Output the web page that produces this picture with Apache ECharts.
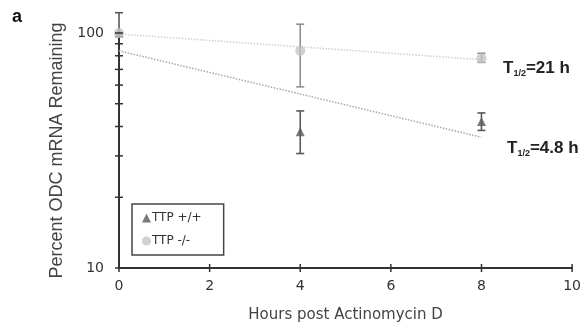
<!DOCTYPE html>
<html><head><meta charset="utf-8">
<script src="https://cdn.jsdelivr.net/npm/echarts@6/dist/echarts.min.js"></script>
<style>html,body{margin:0;padding:0;background:#fff}#c{width:584px;height:328px}</style>
</head><body><div id="c"></div>
<script>
// Data
const hours = [0, 4, 8];
const ttpWT = [100, 38, 42];          // TTP +/+
const ttpWTLow = [100, 30.7, 38.5];
const ttpWTHigh = [122, 46.6, 45.7];
const ttpKO = [100, 84, 78];          // TTP -/-
const ttpKOLow = [100, 59, 75];
const ttpKOHigh = [100, 109, 82];
const trendWT = [[0, 84], [8, 36]];
const trendKO = [[0, 99], [8, 77]];
const xTicks = [0, 2, 4, 6, 8, 10];
const yMajorTicks = [10, 100];
const yMinorTicks = [20, 30, 40, 50, 60, 70, 80, 90];

const DARK = '#595959', LIGHT = '#c4c4c4', MID = '#8f8f8f';
const FONT = 'DejaVu Sans, Verdana, sans-serif';

function errData(lo, hi) { return hours.map((h, i) => [h, lo[i], hi[i]]); }
function errRender(color) {
  return function (params, api) {
    const x = api.value(0);
    const a = api.coord([x, api.value(1)]);
    const b = api.coord([x, api.value(2)]);
    const w = 4;
    const st = { stroke: color, lineWidth: 1.6 };
    return { type: 'group', children: [
      { type: 'line', shape: { x1: a[0], y1: a[1], x2: b[0], y2: b[1] }, style: st },
      { type: 'line', shape: { x1: a[0] - w, y1: a[1], x2: a[0] + w, y2: a[1] }, style: st },
      { type: 'line', shape: { x1: b[0] - w, y1: b[1], x2: b[0] + w, y2: b[1] }, style: st }
    ]};
  };
}

const tickData = [];
xTicks.forEach(x => tickData.push([x, 10, 0]));
yMajorTicks.forEach(y => tickData.push([0, y, 1]));
yMinorTicks.forEach(y => tickData.push([0, y, 1]));

const chart = echarts.init(document.getElementById('c'));
chart.setOption({
  animation: false,
  textStyle: { fontFamily: FONT },
  grid: { left: 119, right: 11, top: 33, bottom: 57 },
  xAxis: {
    type: 'value', min: 0, max: 10, interval: 2,
    splitLine: { show: false },
    axisLine: { lineStyle: { color: '#333', width: 2 } },
    axisTick: { show: false },
    axisLabel: { color: '#333', fontSize: 14, margin: 11, fontFamily: FONT },
    name: 'Hours post Actinomycin D', nameLocation: 'middle', nameGap: 40,
    nameTextStyle: { color: '#444', fontSize: 15, fontFamily: FONT }
  },
  yAxis: {
    type: 'log', logBase: 10, min: 10, max: 100,
    splitLine: { show: false },
    axisLine: { lineStyle: { color: '#333', width: 2 } },
    axisTick: { show: false },
    minorTick: { show: false },
    axisLabel: { color: '#333', fontSize: 14, margin: 15, fontFamily: FONT },
    name: 'Percent ODC mRNA Remaining', nameLocation: 'middle', nameGap: 47,
    nameTextStyle: { color: '#444', fontSize: 18, fontFamily: 'Liberation Sans, Arial, sans-serif' }
  },
  legend: {
    orient: 'vertical', left: 132, top: 204,
    data: [{ name: 'TTP +/+', icon: 'triangle' }, { name: 'TTP -/-', icon: 'circle' }],
    itemWidth: 9, itemHeight: 9, itemGap: 11,
    padding: [8, 22, 8, 10],
    borderColor: '#444', borderWidth: 1.5,
    textStyle: { color: '#333', fontSize: 12, padding: [0, 0, 0, -4], fontFamily: FONT }
  },
  graphic: [
    { type: 'text', left: 12, top: 8, style: { text: 'a', font: 'bold 18px Liberation Sans, Arial', fill: '#111' } },
    { type: 'text', left: 503, top: 60, style: {
      text: '{t|T}{s|1/2}{t|=21 h}', rich: {
        t: { font: 'bold 17px Liberation Sans, Arial', fill: '#222' },
        s: { font: 'bold 9px Liberation Sans, Arial', fill: '#222', padding: [10, 0, 0, 0] } } } },
    { type: 'text', left: 507, top: 140, style: {
      text: '{t|T}{s|1/2}{t|=4.8 h}', rich: {
        t: { font: 'bold 17px Liberation Sans, Arial', fill: '#222' },
        s: { font: 'bold 9px Liberation Sans, Arial', fill: '#222', padding: [10, 0, 0, 0] } } } }
  ],
  series: [
    { type: 'custom', silent: true, clip: false, data: tickData, z: 5,
      renderItem: function (params, api) {
        const p = api.coord([api.value(0), api.value(1)]);
        const v = api.value(2) === 1;
        const l = 4;
        return { type: 'line',
          shape: v ? { x1: p[0] - l, y1: p[1], x2: p[0] + l, y2: p[1] } : { x1: p[0], y1: p[1] - l, x2: p[0], y2: p[1] + l },
          style: { stroke: '#333', lineWidth: 1.5 } };
      } },
    { type: 'line', data: trendKO, showSymbol: false, silent: true, z: 2,
      lineStyle: { color: '#d0d0d0', width: 1.5, type: [1.5, 1.5] } },
    { type: 'line', data: trendWT, showSymbol: false, silent: true, z: 2,
      lineStyle: { color: '#a8a8a8', width: 1.5, type: [1.5, 1.5] } },
    { type: 'custom', silent: true, clip: false, z: 3, data: errData(ttpWTLow, ttpWTHigh), renderItem: errRender(DARK) },
    { type: 'custom', silent: true, clip: false, z: 3, data: errData(ttpKOLow, ttpKOHigh), renderItem: errRender(MID) },
    { name: 'TTP +/+', type: 'scatter', symbol: 'triangle', symbolSize: 9, z: 4,
      data: hours.map((h, i) => [h, ttpWT[i]]), itemStyle: { color: DARK } },
    { name: 'TTP -/-', type: 'scatter', symbol: 'circle', symbolSize: 10, z: 4,
      data: hours.map((h, i) => [h, ttpKO[i]]), itemStyle: { color: LIGHT } }
  ]
});
</script></body></html>
